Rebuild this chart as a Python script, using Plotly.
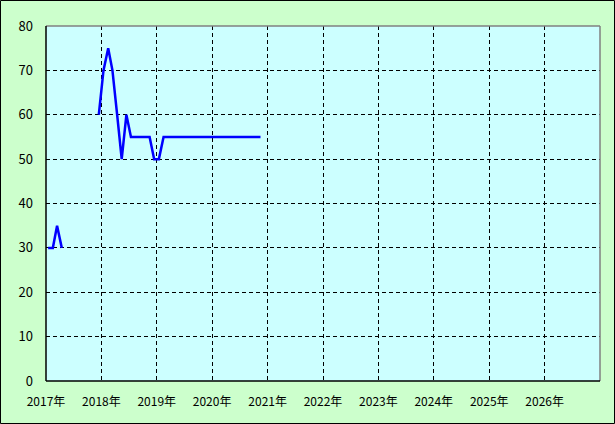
import plotly.graph_objects as go

months = (
    [f"2017-{m:02d}-15" for m in range(1, 13)]
    + [f"2018-{m:02d}-15" for m in range(1, 13)]
    + [f"2019-{m:02d}-15" for m in range(1, 13)]
    + [f"2020-{m:02d}-15" for m in range(1, 12)]
)
values_2017 = [30, 30, 35, 30, None, None, None, None, None, None, None, 60]
values_2018 = [70, 75, 70, 60, 50, 60, 55, 55, 55, 55, 55, 50]
values_2019 = [50, 55, 55, 55, 55, 55, 55, 55, 55, 55, 55, 55]
values_2020 = [55, 55, 55, 55, 55, 55, 55, 55, 55, 55, 55]
values = values_2017 + values_2018 + values_2019 + values_2020

tick_years = list(range(2017, 2027))
tick_vals = [f"{y}-01-01" for y in tick_years]
tick_text = [f"{y}年" for y in tick_years]

FONT = "Noto Sans CJK JP, DejaVu Sans, sans-serif"
W, H = 615, 424
L, R, T, B = 46, 15, 26, 43
pw, ph = W - L - R, H - T - B

fig = go.Figure()
fig.add_trace(go.Scatter(
    x=months, y=values, mode="lines", connectgaps=False,
    line=dict(color="#0000ff", width=2.5), hoverinfo="skip", showlegend=False,
))

fig.update_layout(
    width=W, height=H,
    margin=dict(l=L, r=R, t=T, b=B, pad=0, autoexpand=False),
    paper_bgcolor="#ccffcc", plot_bgcolor="#ccffff",
    font=dict(family=FONT, size=13, color="#000000"),
    showlegend=False,
)
fig.update_xaxes(
    type="date", range=["2017-01-01", "2027-01-01"],
    tickmode="array", tickvals=tick_vals, ticktext=tick_text,
    showgrid=True, gridcolor="#000000", gridwidth=1, griddash="4px,3px",
    showline=False, zeroline=False, ticks="", ticklabelstandoff=12,
    tickfont=dict(size=12), automargin=False,
)
fig.update_yaxes(
    range=[0, 80], dtick=10, tick0=0,
    showgrid=True, gridcolor="#000000", gridwidth=1, griddash="4px,3px",
    showline=False, zeroline=False, ticks="", ticklabelstandoff=12,
    automargin=False,
)

# plot-area border: gray top/right, black left/bottom
fig.add_shape(type="line", xref="paper", yref="paper", x0=0, x1=1, y0=1, y1=1,
              line=dict(color="#808080", width=1.5), layer="above")
fig.add_shape(type="line", xref="paper", yref="paper", x0=1, x1=1, y0=0, y1=1,
              line=dict(color="#808080", width=1.5), layer="above")
fig.add_shape(type="line", xref="paper", yref="paper", x0=0, x1=0, y0=0, y1=1,
              line=dict(color="#000000", width=1.5), layer="above")
fig.add_shape(type="line", xref="paper", yref="paper", x0=0, x1=1, y0=0, y1=0,
              line=dict(color="#000000", width=1.5), layer="above")
# outer figure border
fig.add_shape(type="rect", xref="paper", yref="paper",
              x0=(-L + 0.5) / pw, x1=1 + (R - 0.5) / pw,
              y0=(-B + 0.5) / ph, y1=1 + (T - 0.5) / ph,
              line=dict(color="#000000", width=1), layer="above")

fig.write_html(
    "out.html",
    config={"displayModeBar": False},
    post_script="document.body.style.margin='0';document.body.style.padding='0';",
)
